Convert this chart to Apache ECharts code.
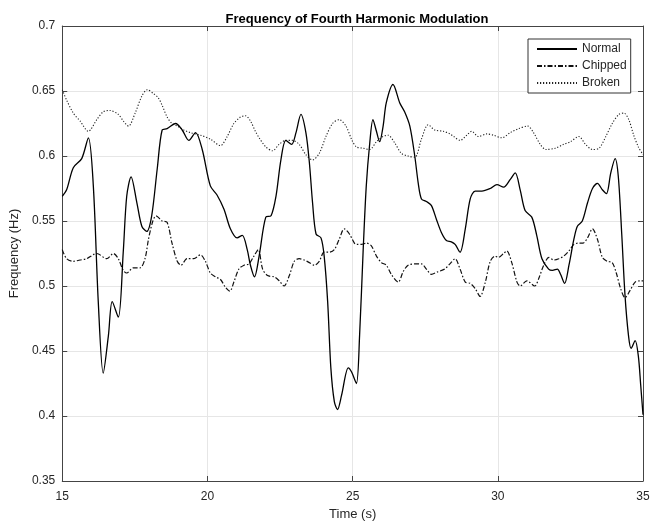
<!DOCTYPE html>
<html>
<head>
<meta charset="utf-8">
<script src="https://cdn.jsdelivr.net/npm/echarts@6/dist/echarts.min.js"></script>
<style>
  html, body { margin: 0; padding: 0; background: #fff; }
  #chart { width: 660px; height: 526px; }
</style>
</head>
<body>
<div id="chart"></div>
<script>
// Time axis ticks
const xTicks = [15, 20, 25, 30, 35];
const yTicks = [0.35, 0.4, 0.45, 0.5, 0.55, 0.6, 0.65, 0.7];

// Normal condition
const normalT = [15.0, 15.15, 15.38, 15.67, 15.9, 16.07, 16.24, 16.41, 16.59, 16.72, 16.93, 17.1, 17.22, 17.37, 17.57, 17.74, 17.91, 18.08, 18.27, 18.44, 18.61, 18.9, 19.13, 19.36, 19.59, 19.82, 20.1, 20.33, 20.57, 20.79, 21.02, 21.2, 21.37, 21.48, 21.62, 21.78, 22.01, 22.19, 22.36, 22.53, 22.7, 22.9, 23.05, 23.22, 23.39, 23.51, 23.62, 23.74, 23.91, 24.02, 24.14, 24.25, 24.37, 24.48, 24.62, 24.85, 24.96, 25.13, 25.24, 25.36, 25.47, 25.59, 25.7, 25.82, 25.93, 26.05, 26.16, 26.39, 26.62, 26.79, 26.97, 27.14, 27.26, 27.37, 27.54, 27.71, 27.89, 28.06, 28.23, 28.4, 28.53, 28.7, 28.88, 29.05, 29.22, 29.45, 29.74, 29.97, 30.2, 30.43, 30.6, 30.77, 30.94, 31.17, 31.34, 31.52, 31.75, 31.88, 32.05, 32.16, 32.3, 32.45, 32.62, 32.74, 32.91, 33.09, 33.26, 33.43, 33.6, 33.74, 33.89, 34.04, 34.15, 34.27, 34.38, 34.5, 34.59, 34.73, 34.84, 34.92, 35.0];
const normalV = [0.569, 0.574, 0.591, 0.598, 0.614, 0.577, 0.488, 0.433, 0.462, 0.488, 0.476, 0.526, 0.569, 0.584, 0.564, 0.546, 0.542, 0.554, 0.59, 0.62, 0.621, 0.625, 0.62, 0.612, 0.618, 0.605, 0.577, 0.57, 0.559, 0.544, 0.537, 0.539, 0.528, 0.516, 0.507, 0.523, 0.553, 0.554, 0.569, 0.597, 0.612, 0.609, 0.618, 0.632, 0.618, 0.595, 0.564, 0.54, 0.537, 0.523, 0.488, 0.437, 0.411, 0.405, 0.416, 0.437, 0.434, 0.425, 0.462, 0.526, 0.577, 0.61, 0.628, 0.619, 0.611, 0.623, 0.641, 0.655, 0.641, 0.634, 0.623, 0.6, 0.579, 0.567, 0.565, 0.562, 0.551, 0.541, 0.535, 0.534, 0.532, 0.526, 0.544, 0.567, 0.573, 0.573, 0.575, 0.578, 0.576, 0.582, 0.587, 0.574, 0.558, 0.553, 0.539, 0.521, 0.513, 0.512, 0.513, 0.509, 0.502, 0.516, 0.536, 0.546, 0.55, 0.564, 0.575, 0.579, 0.574, 0.571, 0.587, 0.598, 0.584, 0.539, 0.493, 0.462, 0.452, 0.458, 0.446, 0.424, 0.401];

// Chipped tooth
const chippedT = [15.0, 15.15, 15.38, 15.61, 15.84, 16.19, 16.53, 16.76, 16.93, 17.1, 17.22, 17.45, 17.68, 17.85, 17.97, 18.12, 18.23, 18.44, 18.61, 18.78, 18.96, 19.09, 19.3, 19.53, 19.76, 19.93, 20.1, 20.28, 20.45, 20.62, 20.77, 20.91, 21.08, 21.26, 21.43, 21.6, 21.75, 21.9, 22.07, 22.3, 22.47, 22.64, 22.82, 22.99, 23.16, 23.33, 23.51, 23.68, 23.85, 24.02, 24.2, 24.37, 24.54, 24.71, 24.89, 25.06, 25.13, 25.3, 25.47, 25.64, 25.82, 25.99, 26.16, 26.33, 26.57, 26.74, 26.91, 27.14, 27.37, 27.54, 27.71, 27.94, 28.17, 28.35, 28.53, 28.7, 28.88, 29.05, 29.22, 29.39, 29.57, 29.74, 29.91, 30.02, 30.2, 30.31, 30.48, 30.66, 30.77, 31.0, 31.27, 31.43, 31.58, 31.76, 31.93, 32.1, 32.27, 32.45, 32.62, 32.79, 32.93, 33.09, 33.26, 33.43, 33.6, 33.77, 33.94, 34.08, 34.23, 34.38, 34.54, 34.73, 34.92, 35.0];
const chippedV = [0.528, 0.521, 0.519, 0.52, 0.521, 0.525, 0.521, 0.525, 0.521, 0.512, 0.51, 0.514, 0.514, 0.521, 0.536, 0.55, 0.554, 0.55, 0.549, 0.533, 0.519, 0.516, 0.521, 0.521, 0.524, 0.519, 0.51, 0.507, 0.505, 0.499, 0.496, 0.503, 0.513, 0.516, 0.517, 0.523, 0.528, 0.513, 0.508, 0.507, 0.504, 0.5, 0.508, 0.519, 0.521, 0.52, 0.518, 0.516, 0.519, 0.526, 0.526, 0.528, 0.536, 0.544, 0.54, 0.533, 0.532, 0.532, 0.533, 0.531, 0.523, 0.518, 0.516, 0.509, 0.503, 0.511, 0.516, 0.517, 0.517, 0.513, 0.509, 0.511, 0.513, 0.517, 0.521, 0.513, 0.503, 0.502, 0.498, 0.492, 0.503, 0.519, 0.523, 0.522, 0.525, 0.527, 0.518, 0.503, 0.5, 0.504, 0.5, 0.507, 0.516, 0.522, 0.52, 0.521, 0.523, 0.527, 0.532, 0.533, 0.533, 0.537, 0.544, 0.536, 0.522, 0.519, 0.518, 0.51, 0.498, 0.491, 0.496, 0.503, 0.504, 0.504];

// Broken tooth
const brokenT = [15.0, 15.15, 15.38, 15.61, 15.9, 16.19, 16.41, 16.64, 16.93, 17.1, 17.28, 17.51, 17.74, 17.93, 18.14, 18.3, 18.44, 18.61, 18.78, 18.96, 19.19, 19.41, 19.76, 20.1, 20.45, 20.68, 20.91, 21.14, 21.31, 21.48, 21.65, 21.78, 22.01, 22.24, 22.47, 22.7, 22.93, 23.16, 23.39, 23.62, 23.85, 24.08, 24.31, 24.54, 24.77, 24.98, 25.13, 25.36, 25.59, 25.82, 26.05, 26.22, 26.45, 26.68, 26.91, 27.14, 27.37, 27.6, 27.83, 28.12, 28.35, 28.48, 28.7, 28.93, 29.1, 29.33, 29.62, 29.85, 30.14, 30.43, 30.71, 31.03, 31.23, 31.46, 31.66, 31.98, 32.27, 32.5, 32.79, 33.02, 33.26, 33.49, 33.72, 33.94, 34.17, 34.34, 34.51, 34.68, 34.84, 35.0];
const brokenV = [0.651, 0.643, 0.633, 0.627, 0.619, 0.628, 0.634, 0.635, 0.632, 0.627, 0.623, 0.633, 0.646, 0.651, 0.648, 0.645, 0.639, 0.63, 0.625, 0.623, 0.62, 0.618, 0.616, 0.613, 0.608, 0.615, 0.625, 0.63, 0.631, 0.627, 0.619, 0.614, 0.607, 0.604, 0.609, 0.612, 0.612, 0.609, 0.601, 0.597, 0.602, 0.615, 0.625, 0.628, 0.623, 0.612, 0.607, 0.606, 0.605, 0.611, 0.615, 0.616, 0.61, 0.602, 0.6, 0.599, 0.613, 0.624, 0.62, 0.619, 0.617, 0.615, 0.612, 0.616, 0.619, 0.615, 0.617, 0.616, 0.614, 0.618, 0.621, 0.623, 0.618, 0.609, 0.605, 0.606, 0.609, 0.611, 0.615, 0.609, 0.605, 0.606, 0.615, 0.625, 0.632, 0.633, 0.628, 0.616, 0.607, 0.601];

const pairs = (ts, vs) => ts.map((t, i) => [t, vs[i]]);

const FONT = 'Liberation Sans, Arial, Helvetica, sans-serif';
const AXIS_COLOR = '#444';
const LABEL_COLOR = '#262626';

const chart = echarts.init(document.getElementById('chart'), null, { renderer: 'canvas' });

const baseX = {
  type: 'value', min: xTicks[0], max: xTicks[xTicks.length - 1], interval: 5
};
const baseY = {
  type: 'value', min: yTicks[0], max: yTicks[yTicks.length - 1], interval: 0.05
};

chart.setOption({
  animation: false,
  backgroundColor: '#fff',
  title: {
    text: 'Frequency of Fourth Harmonic Modulation',
    left: 352, top: 8, textAlign: 'center',
    textStyle: { fontFamily: FONT, fontSize: 13, fontWeight: 'bold', color: '#000' }
  },
  grid: { left: 62, top: 26, right: 17, bottom: 43, containLabel: false },
  legend: {
    orient: 'vertical',
    left: 528, top: 39,
    padding: [4, 4, 4, 8],
    itemWidth: 40, itemHeight: 10, itemGap: 5,
    borderColor: '#333', borderWidth: 1, backgroundColor: '#fff',
    itemStyle: { opacity: 0 },
    textStyle: { fontFamily: FONT, fontSize: 12, color: LABEL_COLOR },
    data: ['Normal', 'Chipped', 'Broken']
  },
  xAxis: [
    Object.assign({}, baseX, {
      position: 'bottom',
      name: 'Time (s)', nameLocation: 'middle', nameGap: 27,
      nameTextStyle: { fontFamily: FONT, fontSize: 13, color: LABEL_COLOR },
      axisLine: { show: true, lineStyle: { color: AXIS_COLOR, width: 1 } },
      axisTick: { show: true, inside: true, length: 5, lineStyle: { color: AXIS_COLOR } },
      axisLabel: { fontFamily: FONT, fontSize: 12, color: LABEL_COLOR, margin: 10 },
      splitLine: { show: true, lineStyle: { color: '#e6e6e6', width: 1 } }
    }),
    Object.assign({}, baseX, {
      position: 'top',
      axisLine: { show: true, lineStyle: { color: AXIS_COLOR, width: 1 } },
      axisTick: { show: true, inside: true, length: 5, lineStyle: { color: AXIS_COLOR } },
      axisLabel: { show: false },
      splitLine: { show: false }
    })
  ],
  yAxis: [
    Object.assign({}, baseY, {
      position: 'left',
      name: 'Frequency (Hz)', nameLocation: 'middle', nameGap: 33, nameRotate: 90,
      nameTextStyle: { fontFamily: FONT, fontSize: 13, color: LABEL_COLOR },
      axisLine: { show: true, lineStyle: { color: AXIS_COLOR, width: 1 } },
      axisTick: { show: true, inside: true, length: 5, lineStyle: { color: AXIS_COLOR } },
      axisLabel: { fontFamily: FONT, fontSize: 12, color: LABEL_COLOR, margin: 7,
        formatter: v => String(parseFloat(v.toFixed(2))) },
      splitLine: { show: true, lineStyle: { color: '#e6e6e6', width: 1 } }
    }),
    Object.assign({}, baseY, {
      position: 'right',
      axisLine: { show: true, lineStyle: { color: AXIS_COLOR, width: 1 } },
      axisTick: { show: true, inside: true, length: 5, lineStyle: { color: AXIS_COLOR } },
      axisLabel: { show: false },
      splitLine: { show: false }
    })
  ],
  series: [
    {
      name: 'Normal', type: 'line', xAxisIndex: 0, yAxisIndex: 0,
      data: pairs(normalT, normalV), showSymbol: false, symbol: 'none', smooth: 0.3,
      lineStyle: { color: '#000', width: 1.3, type: 'solid' },
      itemStyle: { color: '#000' }, z: 3
    },
    {
      name: 'Chipped', type: 'line', xAxisIndex: 0, yAxisIndex: 0,
      data: pairs(chippedT, chippedV), showSymbol: false, symbol: 'none', smooth: 0.3,
      lineStyle: { color: '#111', width: 1.2, type: [5, 2, 1.5, 2] },
      itemStyle: { color: '#111' }, z: 2
    },
    {
      name: 'Broken', type: 'line', xAxisIndex: 0, yAxisIndex: 0,
      data: pairs(brokenT, brokenV), showSymbol: false, symbol: 'none', smooth: 0.3,
      lineStyle: { color: '#222', width: 1.1, type: [1.2, 1.8] },
      itemStyle: { color: '#222' }, z: 1
    }
  ]
});
</script>
</body>
</html>
